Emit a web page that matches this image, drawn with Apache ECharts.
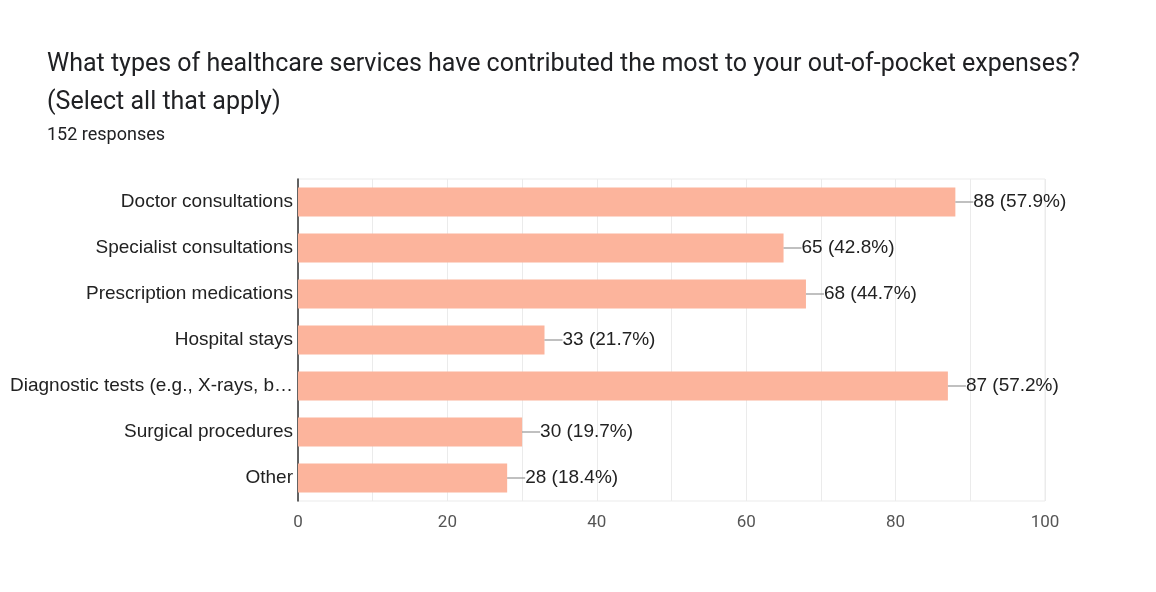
<!DOCTYPE html>
<html>
<head>
<meta charset="utf-8">
<script src="https://cdn.jsdelivr.net/npm/echarts@6/dist/echarts.min.js"></script>
<style>
  html, body { margin: 0; padding: 0; background: #fff; }
  #chart { width: 1156px; height: 592px; }
</style>
</head>
<body>
<div id="chart"></div>
<script>
// Survey answers, top to bottom
const categories = [
  'Doctor consultations',
  'Specialist consultations',
  'Prescription medications',
  'Hospital stays',
  'Diagnostic tests (e.g., X-rays, b\u2026',
  'Surgical procedures',
  'Other'
];
const counts = [88, 65, 68, 33, 87, 30, 28];
const percents = ['57.9', '42.8', '44.7', '21.7', '57.2', '19.7', '18.4'];
const totalResponses = 152;

const labelFont = '"Liberation Sans", Arial, sans-serif';

const chart = echarts.init(document.getElementById('chart'));

chart.setOption({
  animation: false,
  textStyle: { fontFamily: 'Roboto, Arial, sans-serif' },
  title: [
    {
      text: 'What types of healthcare services have contributed the most to your out-of-pocket expenses?\n(Select all that apply)',
      left: 42, top: 41,
      textStyle: { fontSize: 25, fontWeight: 'normal', color: '#202124', lineHeight: 38 }
    },
    {
      text: totalResponses + ' responses',
      left: 42, top: 121,
      textStyle: { fontSize: 18, fontWeight: 'normal', color: '#202124' }
    }
  ],
  grid: {
    left: 298, right: 111, top: 179, bottom: 91,
    show: true, borderColor: '#ebebeb', borderWidth: 1, backgroundColor: 'transparent'
  },
  xAxis: {
    type: 'value',
    min: 0, max: 100, interval: 20,
    axisLine: { show: false },
    axisTick: { show: false },
    minorTick: { show: false, splitNumber: 2 },
    splitLine: { lineStyle: { color: '#ebebeb', width: 1 } },
    minorSplitLine: { show: true, lineStyle: { color: '#ebebeb', width: 1 } },
    axisLabel: { color: '#555', fontSize: 17, margin: 13 }
  },
  yAxis: {
    type: 'category',
    data: categories,
    inverse: true,
    axisLine: { show: true, lineStyle: { color: '#333', width: 1.5 } },
    axisTick: { show: false },
    axisLabel: { color: '#222', fontSize: 19, fontFamily: labelFont, margin: 5 }
  },
  series: [{
    type: 'bar',
    data: counts,
    barWidth: '63%',
    itemStyle: { color: '#fcb49c' },
    label: {
      show: true,
      position: 'right',
      distance: 0,
      formatter: p => '{l|}{v|' + p.value + ' (' + percents[p.dataIndex] + '%)}',
      rich: {
        l: { width: 18, height: 1, backgroundColor: '#808080' },
        v: { fontSize: 19, fontFamily: labelFont, color: '#222' }
      }
    }
  }]
});
</script>
</body>
</html>
